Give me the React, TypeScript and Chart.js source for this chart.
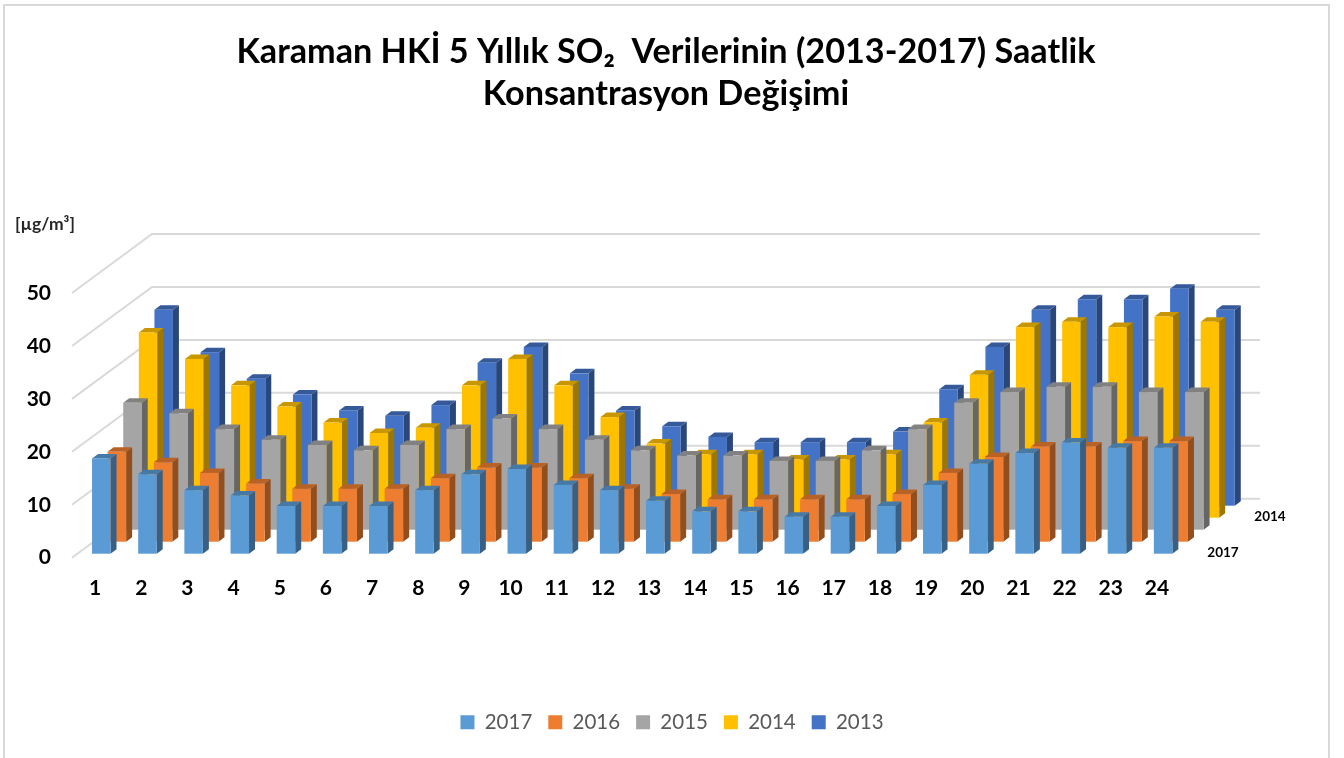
import React, { useEffect, useRef } from "react";
import { Chart, registerables } from "chart.js";

Chart.register(...registerables);

const hours = ["1","2","3","4","5","6","7","8","9","10","11","12","13","14","15","16","17","18","19","20","21","22","23","24"];
const s2017 = [18,15,12,11,9,9,9,12,15,16,13,12,10,8,8,7,7,9,13,17,19,21,20,20];
const s2016 = [17,15,13,11,10,10,10,12,14,14,12,10,9,8,8,8,8,9,13,16,18,18,19,19];
const s2015 = [24,22,19,17,16,15,16,19,21,19,17,15,14,14,13,13,15,19,24,26,27,27,26,26];
const s2014 = [35,30,25,21,18,16,17,25,30,25,19,14,12,12,11,11,12,18,27,36,37,36,38,37];
const s2013 = [37,29,24,21,18,17,19,27,30,25,18,15,13,12,12,12,14,22,30,37,39,39,41,37];
const titleLines = ["Karaman HKİ 5 Yıllık SO₂  Verilerinin (2013-2017) Saatlik", "Konsantrasyon Değişimi"];
const unitLabel = "[µg/m³]";
const depthLabels = ["2017", "2014"];
const FONT = "Lato, Carlito, 'Open Sans', sans-serif";

function shade(hex: string, f: number) {
  const n = parseInt(hex.slice(1), 16);
  const c = [(n >> 16) & 255, (n >> 8) & 255, n & 255].map((v) => Math.round(v * f));
  return `rgb(${c[0]},${c[1]},${c[2]})`;
}

const DEPTH_X = 15.6, DEPTH_Y = 12, SIDE_X = 6, SIDE_Y = 4.5, FRONT_X = 6.2, FRONT_Y = 4;

const prismPlugin = {
  id: "prism",
  afterLayout(chart: any) {
    const tb = chart.titleBlock;
    if (tb) { tb.left -= 6; tb.right -= 6; }
  },
  beforeDatasetsDraw(chart: any) {
    const { ctx, scales: { y }, chartArea } = chart;
    const dx = 80, dy = 59;
    ctx.save();
    ctx.strokeStyle = "#D9D9D9";
    ctx.lineWidth = 2;
    y.ticks.forEach((t: any) => {
      const py = y.getPixelForValue(t.value);
      ctx.beginPath();
      ctx.moveTo(chartArea.left, py);
      ctx.lineTo(chartArea.left + dx, py - dy);
      ctx.lineTo(1260, py - dy);
      ctx.stroke();
    });
    ctx.restore();
  },
  beforeDatasetDraw(chart: any, args: any) {
    const { ctx } = chart;
    const i = args.index;
    const ds = chart.data.datasets[i];
    const color = ds.backgroundColor as string;
    const ox = FRONT_X + DEPTH_X * i;
    const oy = -FRONT_Y - DEPTH_Y * i;
    ctx.save();
    args.meta.data.forEach((bar: any) => {
      const w = bar.width;
      const l = bar.x - w / 2 + ox;
      const r = l + w;
      const t = bar.y + oy;
      const b = bar.base + oy;
      ctx.fillStyle = shade(color, 0.62);
      ctx.beginPath();
      ctx.moveTo(r, t); ctx.lineTo(r + SIDE_X, t - SIDE_Y); ctx.lineTo(r + SIDE_X, b - SIDE_Y); ctx.lineTo(r, b);
      ctx.closePath(); ctx.fill();
      ctx.fillStyle = shade(color, 0.78);
      ctx.beginPath();
      ctx.moveTo(l, t); ctx.lineTo(l + SIDE_X, t - SIDE_Y); ctx.lineTo(r + SIDE_X, t - SIDE_Y); ctx.lineTo(r, t);
      ctx.closePath(); ctx.fill();
      ctx.fillStyle = color;
      ctx.fillRect(l, t, w, b - t);
    });
    ctx.restore();
    return false;
  },
  afterDraw(chart: any) {
    const { ctx, scales: { y }, chartArea } = chart;
    const base = y.getPixelForValue(0);
    ctx.save();
    ctx.fillStyle = "#262626";
    ctx.textBaseline = "middle";
    ctx.textAlign = "left";
    ctx.font = `bold 17.5px ${FONT}`;
    ctx.fillText(unitLabel, 15, 224);
    ctx.fillStyle = "#000";
    ctx.textAlign = "center";
    ctx.font = `bold 13.5px ${FONT}`;
    ctx.fillText(depthLabels[0], chartArea.right + 43, base - 5);
    ctx.fillText(depthLabels[1], chartArea.right + 90, base - 41);
    ctx.restore();
  },
};

export default function App() {
  const ref = useRef<HTMLCanvasElement>(null);
  useEffect(() => {
    const mk = (label: string, data: number[], color: string) => ({
      label, data, backgroundColor: color, borderWidth: 0, barThickness: 18.5, grouped: false,
    });
    const chart = new Chart(ref.current as HTMLCanvasElement, {
      type: "bar",
      data: {
        labels: hours,
        datasets: [
          mk("2017", s2017, "#5B9BD5"),
          mk("2016", s2016, "#ED7D31"),
          mk("2015", s2015, "#A5A5A5"),
          mk("2014", s2014, "#FFC000"),
          mk("2013", s2013, "#4472C4"),
        ],
      },
      options: {
        animation: false,
        responsive: false,
        layout: { padding: { left: 0, right: 0, top: 0, bottom: 15.4 } },
        plugins: {
          tooltip: { enabled: false },
          title: {
            display: true,
            text: titleLines,
            color: "#000",
            align: "center",
            fullSize: true,
            font: { family: FONT, size: 34.2, weight: "bold", lineHeight: 42 / 34.2 },
            padding: { top: 31, bottom: 178 },
          },
          legend: {
            position: "bottom",
            fullSize: true,
            labels: {
              boxWidth: 14, boxHeight: 14, padding: 16, color: "#595959",
              font: { family: FONT, size: 20.5 },
            },
          },
        },
        scales: {
          x: {
            grid: { display: false, drawTicks: false },
            border: { display: false },
            afterFit: (s: any) => { s.height = 138.4; },
            ticks: { color: "#000", padding: 18, maxRotation: 0, autoSkip: false, font: { family: FONT, size: 21, weight: "bold" } },
          },
          y: {
            min: 0, max: 50,
            grid: { display: false, drawTicks: false },
            border: { display: false },
            afterFit: (s: any) => { s.width = 72; },
            ticks: { stepSize: 10, color: "#000", padding: 21, font: { family: FONT, size: 21, weight: "bold" } },
          },
          spacer: {
            position: "right",
            grid: { display: false, drawTicks: false },
            border: { display: false },
            ticks: { display: false },
            afterFit: (s: any) => { s.width = 164; },
          },
        },
      },
      plugins: [prismPlugin],
    } as any);
    return () => chart.destroy();
  }, []);
  return (
    <div style={{ position: "absolute", left: 0, top: 0, width: 1344, height: 758, background: "#fff", overflow: "hidden" }}>
      <canvas ref={ref} width={1344} height={758} style={{ display: "block" }} />
      <div style={{ position: "absolute", left: 3, top: 4, width: 1323, height: 760, borderLeft: "2px solid #D9D9D9", borderTop: "2px solid #D9D9D9", borderRight: "2px solid #D9D9D9" }} />
    </div>
  );
}
